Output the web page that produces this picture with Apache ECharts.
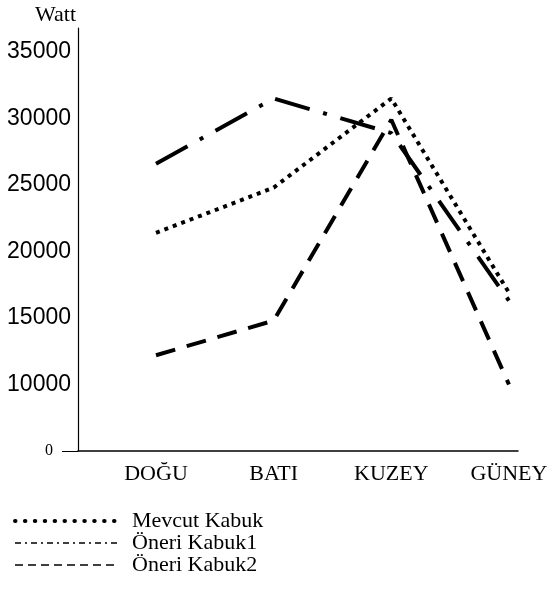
<!DOCTYPE html>
<html>
<head>
<meta charset="utf-8">
<script src="https://cdn.jsdelivr.net/npm/echarts@6/dist/echarts.min.js"></script>
<style>
  html, body { margin: 0; padding: 0; background: #fff; }
  #chart { width: 559px; height: 603px; }
</style>
</head>
<body>
<div id="chart"></div>
<script>
var categories = ['DOĞU', 'BATI', 'KUZEY', 'GÜNEY']
var seriesNames = ['Mevcut Kabuk', 'Öneri Kabuk1', 'Öneri Kabuk2']
var mevcut = [21400, 24800, 31500, 16900]
var oneri1 = [26600, 31500, 28900, 16300]
var oneri2 = [12200, 14800, 29900, 10000]
var yTicks = [5000, 10000, 15000, 20000, 25000, 30000, 35000]

var chart = echarts.init(document.getElementById('chart'))

function toPoints(values) {
  return values.map(function (v, i) { return [i, v] })
}

var serif = 'Liberation Serif, Times New Roman, serif'
var sans = 'Liberation Sans, Arial, sans-serif'

var option = {
  animation: false,
  backgroundColor: '#fff',
  grid: { left: 78, right: 41, top: 28, bottom: 152, containLabel: false },
  xAxis: {
    type: 'value',
    min: -0.663,
    max: 3.077,
    axisLine: { show: true, onZero: false, lineStyle: { color: '#000', width: 1.5 } },
    axisTick: { show: false },
    splitLine: { show: false },
    axisLabel: {
      customValues: [0, 1, 2, 3],
      margin: 12,
      color: '#000',
      fontFamily: serif,
      fontSize: 22,
      formatter: function (v) { return categories[v] }
    }
  },
  yAxis: {
    type: 'value',
    min: 5000,
    max: 36800,
    name: 'Watt',
    nameLocation: 'end',
    nameGap: 2,
    nameTextStyle: { color: '#000', fontFamily: serif, fontSize: 22, align: 'right', padding: [0, 2, 0, 0] },
    axisLine: { show: true, onZero: false, lineStyle: { color: '#000', width: 1.2 } },
    axisTick: { show: true, customValues: [5000], length: 16, lineStyle: { color: '#000' } },
    splitLine: { show: false },
    axisLabel: {
      customValues: yTicks,
      margin: 7,
      color: '#000',
      fontFamily: sans,
      fontSize: 23,
      formatter: function (v) { return v === 5000 ? '{z|0}' : String(v) },
      rich: {
        z: { fontFamily: serif, fontSize: 16, color: '#000', padding: [0, 18, 0, 0] }
      }
    }
  },
  legend: {
    orient: 'vertical',
    left: 8,
    top: 505,
    itemWidth: 102,
    itemHeight: 12,
    itemGap: 0,
    itemStyle: { opacity: 0 },
    textStyle: { color: '#000', fontFamily: serif, fontSize: 22, lineHeight: 21, padding: [0, 0, 0, 10] },
    data: [
      { name: seriesNames[0], lineStyle: { type: [0.5, 9.4], width: 4, cap: 'round', color: '#000' } },
      { name: seriesNames[1], lineStyle: { type: [6, 4, 2, 4], width: 1.5, color: '#000' } },
      { name: seriesNames[2], lineStyle: { type: [8, 5], width: 1.5, color: '#000' } }
    ]
  },
  series: [
    {
      name: seriesNames[0],
      type: 'line',
      symbol: 'none',
      clip: false,
      data: toPoints(mevcut),
      lineStyle: { color: '#000', width: 4, type: [4, 5] }
    },
    {
      name: seriesNames[1],
      type: 'line',
      symbol: 'none',
      clip: false,
      data: toPoints(oneri1),
      lineStyle: { color: '#000', width: 4, type: [36, 14, 4, 14] }
    },
    {
      name: seriesNames[2],
      type: 'line',
      symbol: 'none',
      clip: false,
      data: toPoints(oneri2),
      lineStyle: { color: '#000', width: 4, type: [20, 12] }
    }
  ]
}

chart.setOption(option)
</script>
</body>
</html>
